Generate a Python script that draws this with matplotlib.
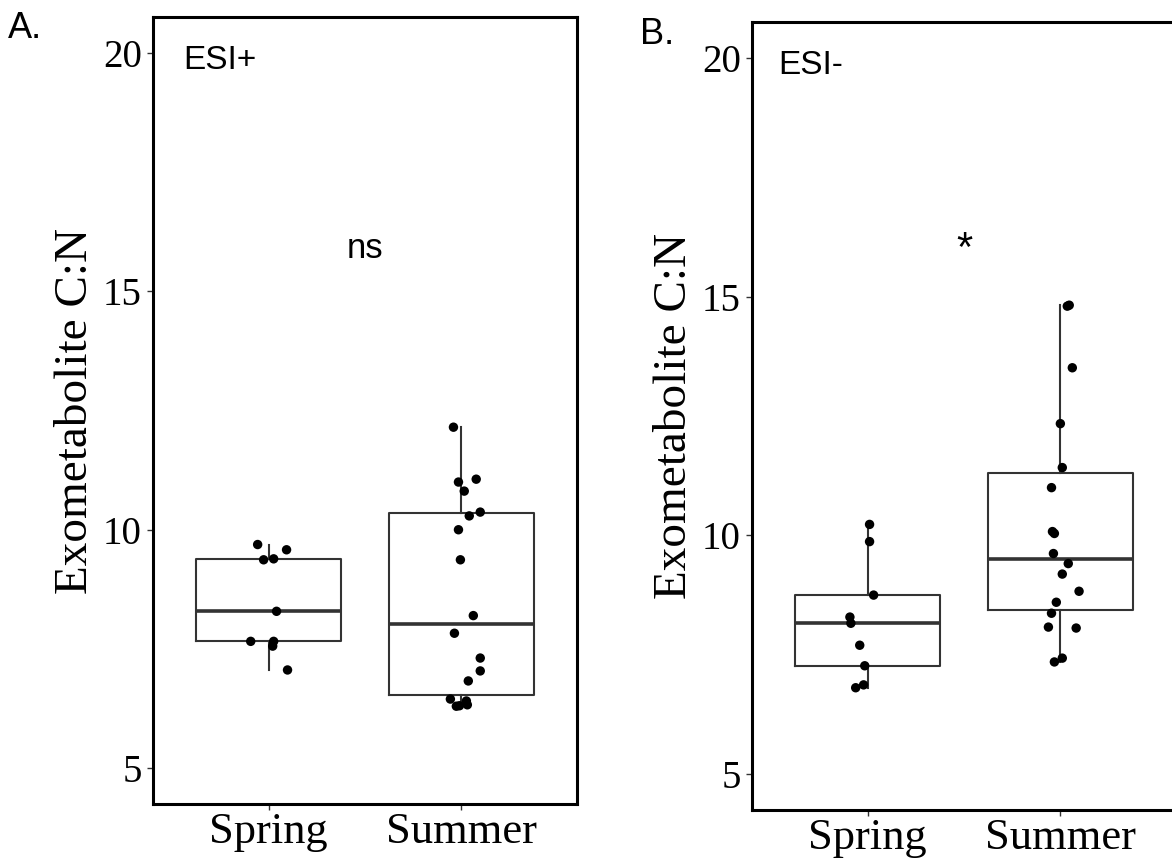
import matplotlib
matplotlib.use("Agg")
import matplotlib.pyplot as plt
import numpy as np

# ---------------- data ----------------
categories = ["Spring", "Summer"]
yticks = [5, 10, 15, 20]
y_label = "Exometabolite C:N"

esi_pos_spring = [9.69, 9.58, 9.37, 9.39, 8.29, 7.66, 7.66, 7.56, 7.06]
esi_pos_spring_jit = [-0.057, 0.093, -0.026, 0.026, 0.041, -0.093, 0.026, 0.021, 0.098]
esi_pos_summer = [12.15, 11.00, 11.06, 10.81, 10.29, 10.37, 10.00, 9.37, 8.20,
                  7.83, 7.31, 7.04, 6.83, 6.45, 6.30, 6.41, 6.33, 6.31]
esi_pos_summer_jit = [-0.041, -0.015, 0.077, 0.015, 0.041, 0.098, -0.015, -0.005, 0.062,
                      -0.036, 0.098, 0.098, 0.036, -0.057, -0.026, 0.026, 0.031, -0.010]

esi_neg_spring = [10.23, 9.87, 8.75, 8.29, 8.16, 7.70, 7.27, 6.87, 6.81]
esi_neg_spring_jit = [0.010, 0.010, 0.031, -0.092, -0.087, -0.041, -0.015, -0.021, -0.062]
esi_neg_summer = [14.80, 14.82, 13.51, 12.34, 11.42, 11.00, 10.08, 10.04, 9.62,
                  9.41, 9.19, 8.83, 8.60, 8.37, 8.08, 8.06, 7.43, 7.35]
esi_neg_summer_jit = [0.036, 0.046, 0.062, 0.000, 0.010, -0.046, -0.041, -0.031, -0.036,
                      0.041, 0.010, 0.097, -0.021, -0.046, -0.062, 0.082, 0.010, -0.031]

panel_letters = ["A.", "B."]
panel_modes = ["ESI+", "ESI-"]
signif_labels = ["ns", "*"]
signif_y = [15.7, 15.75]
signif_size = [25, 30]

# ---------------- styling ----------------
SERIF = "Liberation Serif"
SANS = "Liberation Sans"
BOX_COL = "#333333"

W, H = 1172, 865
fig = plt.figure(figsize=(W / 100, H / 100), dpi=100)
fig.patch.set_facecolor("white")

axA = fig.add_axes([153 / W, (H - 804) / H, 424 / W, 787 / H])
axB = fig.add_axes([752 / W, (H - 810) / H, 424 / W, 788 / H])


def draw_panel(ax, groups, jits, mode, sig, sig_y, sig_size, label_x):
    positions = np.arange(1, len(categories) + 1)
    ax.boxplot(groups, positions=positions, widths=0.75, whis=1.5,
               showfliers=False, showcaps=False, patch_artist=False,
               boxprops=dict(color=BOX_COL, linewidth=1.5),
               whiskerprops=dict(color=BOX_COL, linewidth=1.5),
               medianprops=dict(color=BOX_COL, linewidth=2.6),
               zorder=2)
    for pos, vals, jit in zip(positions, groups, jits):
        ax.scatter(pos + np.asarray(jit), vals, s=46, color="black",
                   edgecolors="none", zorder=3)
    ax.set_xlim(0.4, 2.6)
    ax.set_ylim(4.25, 20.75)
    ax.set_yticks(yticks)
    ax.set_yticklabels([str(t) for t in yticks], fontfamily=SERIF, fontsize=28)
    ax.set_xticks(positions)
    ax.set_xticklabels(categories, fontfamily=SERIF, fontsize=32)
    ax.tick_params(axis="both", direction="out", length=4, width=1.0,
                   color=BOX_COL, labelcolor="black")
    ax.tick_params(axis="y", pad=4)
    ax.tick_params(axis="x", pad=2)
    for sp in ax.spines.values():
        sp.set_linewidth(2.2)
        sp.set_color("black")
    ax.text(label_x, 19.67, mode, ha="left", va="baseline",
            fontfamily=SANS, fontsize=24)
    ax.text(1.5, sig_y, sig, ha="center", va="baseline",
            fontfamily=SANS, fontsize=sig_size)
    ax.text(-0.183, 0.5, y_label, transform=ax.transAxes, rotation=90,
            ha="center", va="center", fontfamily=SERIF, fontsize=34)


draw_panel(axA, [esi_pos_spring, esi_pos_summer],
           [esi_pos_spring_jit, esi_pos_summer_jit], panel_modes[0],
           signif_labels[0], signif_y[0], signif_size[0], 0.555)
draw_panel(axB, [esi_neg_spring, esi_neg_summer],
           [esi_neg_spring_jit, esi_neg_summer_jit], panel_modes[1],
           signif_labels[1], signif_y[1], signif_size[1], 0.535)

fig.text(8 / W, 1 - 38 / H, panel_letters[0], ha="left", va="baseline",
         fontfamily=SANS, fontsize=26)
fig.text(640 / W, 1 - 44 / H, panel_letters[1], ha="left", va="baseline",
         fontfamily=SANS, fontsize=26)

fig.savefig("out.png", dpi=100, facecolor="white")
